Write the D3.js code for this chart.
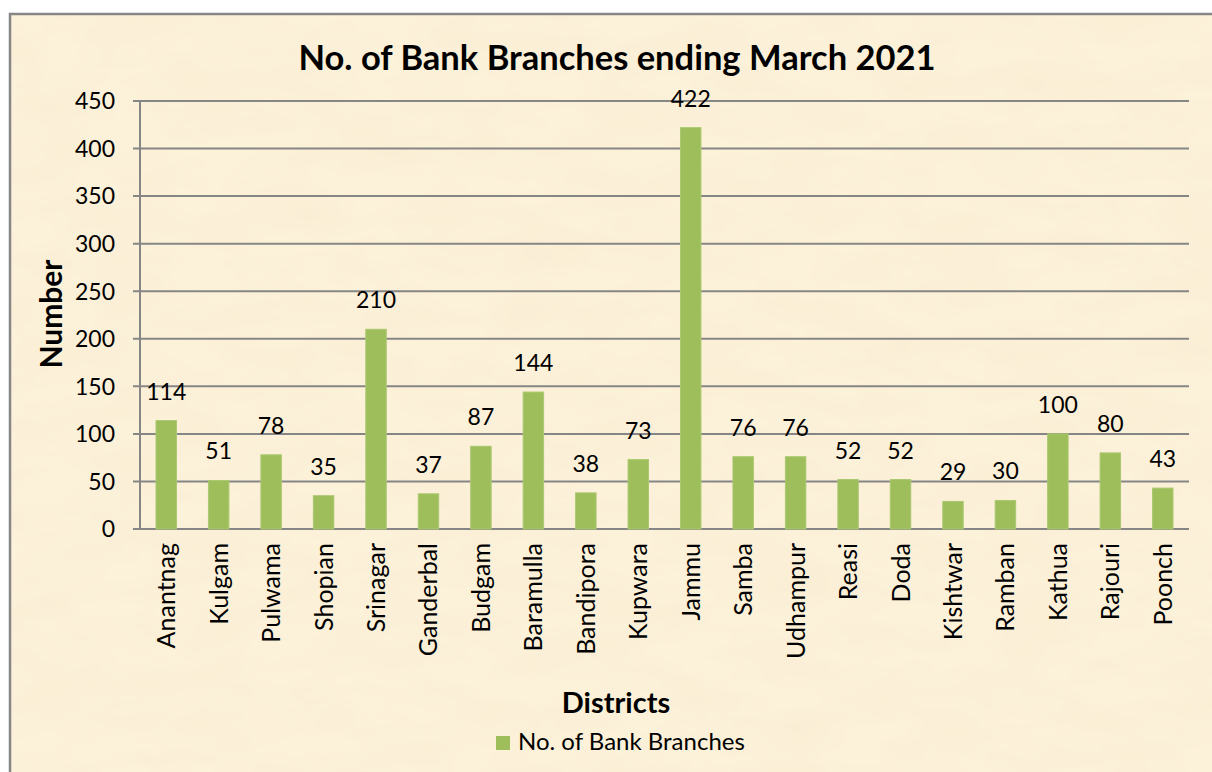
<!DOCTYPE html>
<html>
<head>
<meta charset="utf-8">
<script src="https://cdn.jsdelivr.net/npm/d3@7"></script>
<style>
  body { margin: 0; background: #ffffff; }
  svg { display: block; }
  text { font-family: Lato, "Open Sans", sans-serif; fill: #000; }
</style>
</head>
<body>
<svg id="chart" width="1212" height="772"></svg>
<script>
var districts = ["Anantnag", "Kulgam", "Pulwama", "Shopian", "Srinagar", "Ganderbal", "Budgam",
  "Baramulla", "Bandipora", "Kupwara", "Jammu", "Samba", "Udhampur", "Reasi", "Doda",
  "Kishtwar", "Ramban", "Kathua", "Rajouri", "Poonch"];
var branches = [114, 51, 78, 35, 210, 37, 87, 144, 38, 73, 422, 76, 76, 52, 52, 29, 30, 100, 80, 43];
var yTicks = [0, 50, 100, 150, 200, 250, 300, 350, 400, 450];

var svg = d3.select("#chart");

// parchment-like texture
var filter = svg.append("defs").append("filter")
  .attr("id", "paper")
  .attr("x", 0).attr("y", 0).attr("width", "100%").attr("height", "100%");
filter.append("feTurbulence")
  .attr("type", "fractalNoise")
  .attr("baseFrequency", "0.012 0.03")
  .attr("numOctaves", 3)
  .attr("seed", 7);
filter.append("feColorMatrix")
  .attr("values", "0 0 0 0 0.85  0 0 0 0 0.75  0 0 0 0 0.5  0 0 0 0.22 -0.07");

// background and frame
svg.append("rect")
  .attr("x", 10).attr("y", 14)
  .attr("width", 1240).attr("height", 800)
  .attr("fill", "#fcf1d9");
svg.append("rect")
  .attr("x", 10).attr("y", 14)
  .attr("width", 1240).attr("height", 800)
  .attr("filter", "url(#paper)");
svg.append("rect")
  .attr("x", 10).attr("y", 14)
  .attr("width", 1240).attr("height", 800)
  .attr("fill", "none")
  .attr("stroke", "#868686")
  .attr("stroke-width", 2.5);

var plotLeft = 140, plotRight = 1189, plotTop = 101, plotBottom = 529;

var x = d3.scaleBand()
  .domain(districts)
  .range([plotLeft, plotRight])
  .paddingInner(0.61)
  .paddingOuter(0.305);

var y = d3.scaleLinear()
  .domain([0, 450])
  .range([plotBottom, plotTop]);

// gridlines
svg.append("g")
  .selectAll("line")
  .data(yTicks)
  .enter().append("line")
  .attr("x1", plotLeft - 7).attr("x2", plotRight)
  .attr("y1", function(d) { return y(d); })
  .attr("y2", function(d) { return y(d); })
  .attr("stroke", "#868686")
  .attr("stroke-width", 2);

// y axis line
svg.append("line")
  .attr("x1", plotLeft).attr("x2", plotLeft)
  .attr("y1", plotTop).attr("y2", plotBottom)
  .attr("stroke", "#868686")
  .attr("stroke-width", 2);

// y tick labels
svg.append("g")
  .selectAll("text")
  .data(yTicks)
  .enter().append("text")
  .attr("x", plotLeft - 25)
  .attr("y", function(d) { return y(d); })
  .attr("dy", "0.36em")
  .attr("text-anchor", "end")
  .style("font-size", "23px")
  .text(function(d) { return d; });

// bars
svg.append("g")
  .selectAll("rect")
  .data(branches)
  .enter().append("rect")
  .attr("x", function(d, i) { return x(districts[i]); })
  .attr("y", function(d) { return y(d); })
  .attr("width", x.bandwidth())
  .attr("height", function(d) { return plotBottom - y(d); })
  .attr("fill", "#9ebe5c")
  .attr("stroke", "#abc86f")
  .attr("stroke-width", 1);

// value labels
svg.append("g")
  .selectAll("text")
  .data(branches)
  .enter().append("text")
  .attr("x", function(d, i) { return x(districts[i]) + x.bandwidth() / 2; })
  .attr("y", function(d) { return y(d) - 21; })
  .attr("text-anchor", "middle")
  .style("font-size", "23px")
  .text(function(d) { return d; });

// category labels
svg.append("g")
  .selectAll("text")
  .data(districts)
  .enter().append("text")
  .attr("transform", function(d) {
    return "translate(" + (x(d) + x.bandwidth() / 2 + 9) + "," + 543 + ") rotate(-90)";
  })
  .attr("text-anchor", "end")
  .style("font-size", "25px")
  .text(function(d) { return d; });

// title
svg.append("text")
  .attr("x", 617).attr("y", 70)
  .attr("text-anchor", "middle")
  .style("font-size", "34.5px")
  .style("font-weight", "bold")
  .text("No. of Bank Branches ending March 2021");

// axis titles
svg.append("text")
  .attr("transform", "translate(62,314) rotate(-90)")
  .attr("text-anchor", "middle")
  .style("font-size", "30px")
  .style("font-weight", "bold")
  .text("Number");

svg.append("text")
  .attr("x", 616).attr("y", 713)
  .attr("text-anchor", "middle")
  .style("font-size", "29px")
  .style("font-weight", "bold")
  .text("Districts");

// legend
svg.append("rect")
  .attr("x", 496).attr("y", 736)
  .attr("width", 14).attr("height", 14)
  .attr("fill", "#9ebe5c");

svg.append("text")
  .attr("x", 518).attr("y", 750)
  .style("font-size", "24px")
  .text("No. of Bank Branches");
</script>
</body>
</html>
